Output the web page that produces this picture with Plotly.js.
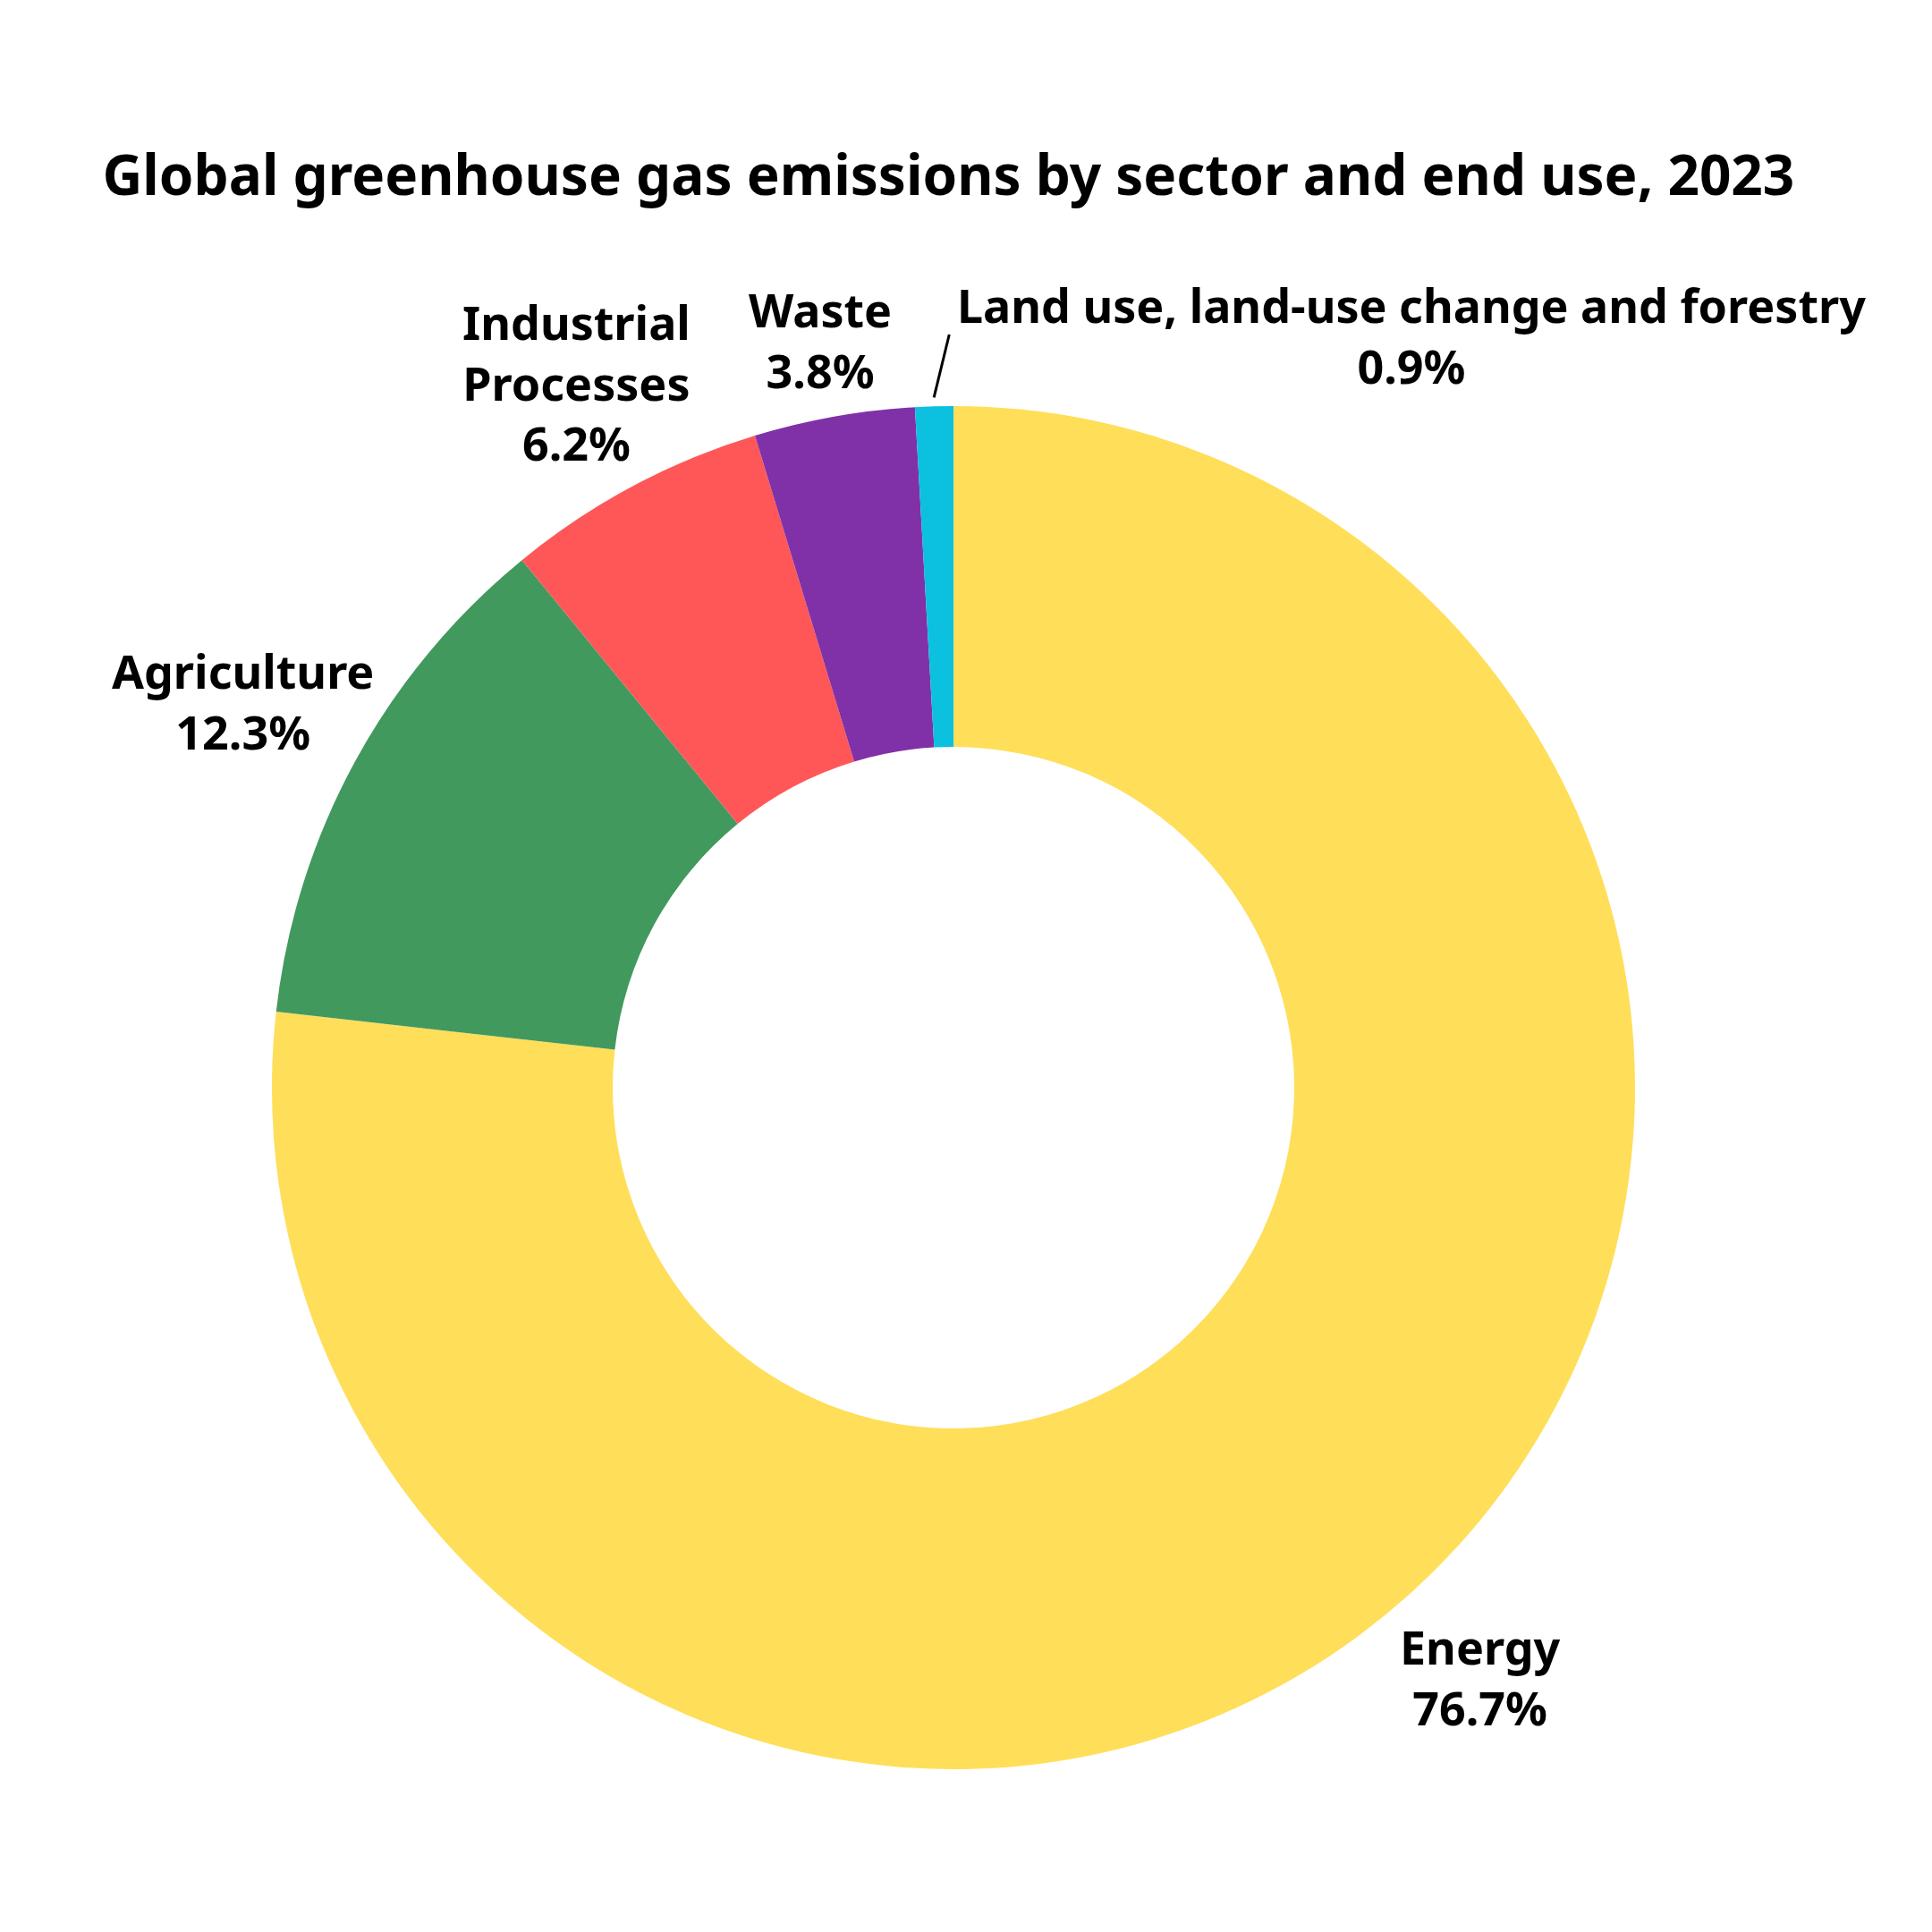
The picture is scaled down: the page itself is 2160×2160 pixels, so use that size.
<!DOCTYPE html>
<html>
<head>
<meta charset="utf-8">
<script src="https://cdn.plot.ly/plotly-3.0.1.min.js"></script>
<style>
  html, body { margin: 0; padding: 0; background: #ffffff; }
  #chart { width: 2160px; height: 2160px; }
</style>
</head>
<body>
<div id="chart"></div>
<script>
// ---- data (share of global GHG emissions, %) ----
const sectors = [
  'Energy',
  'Agriculture',
  'Industrial<br>Processes',
  'Waste',
  'Land use, land-use change and forestry'
];
const shares = [76.7, 12.3, 6.2, 3.8, 0.9];
const sectorColors = ['#FFDE59', '#42995E', '#FF5757', '#8031A7', '#0CC0DF'];

const FONT = '"Noto Sans", "Open Sans", sans-serif';

// ---- layout geometry (px) ----
const W = 2160, H = 2160;
const M = { l: 76, r: 104, t: 454, b: 182 };
const plotW = W - M.l - M.r, plotH = H - M.t - M.b;
const R = Math.min(plotW, plotH) / 2;           // outer radius plotly uses
// distance of label centre from the donut centre, per slice
const labelDist = [884, 905, 895, 850, null];

// paper coords from a polar offset (angle clockwise from 12 o'clock)
function polar(angleDeg, dist) {
  const a = angleDeg * Math.PI / 180;
  return {
    x: 0.5 + dist * Math.sin(a) / plotW,
    y: 0.5 + dist * Math.cos(a) / plotH
  };
}

const total = shares.reduce((s, v) => s + v, 0);
let acc = 0;
const midAngles = shares.map(v => {
  const mid = (acc + v / 2) / total * 360;
  acc += v;
  return mid;
});

const annotations = [];
const shapes = [];
sectors.forEach((name, i) => {
  const txt = `<b>${name}<br>${shares[i].toFixed(1)}%</b>`;
  if (labelDist[i] !== null) {
    const p = polar(midAngles[i], labelDist[i]);
    annotations.push({
      xref: 'paper', yref: 'paper', x: p.x, y: p.y,
      xanchor: 'center', yanchor: 'middle', align: 'center',
      text: txt, showarrow: false,
      font: { family: FONT, size: 52, color: '#000000' }
    });
  } else {
    // tiny slice: leader line then label off to the right
    const p0 = polar(midAngles[i], R + 10);
    const p1 = polar(midAngles[i] + 1.3, R + 80);
    shapes.push({
      type: 'line', xref: 'paper', yref: 'paper',
      x0: p0.x, y0: p0.y, x1: p1.x, y1: p1.y,
      line: { color: '#000000', width: 3 }
    });
    annotations.push({
      xref: 'paper', yref: 'paper', x: p1.x + 7 / plotW, y: p1.y,
      xanchor: 'left', yanchor: 'middle', align: 'center',
      text: txt, showarrow: false,
      font: { family: FONT, size: 52, color: '#000000' }
    });
  }
});

Plotly.newPlot('chart', [{
  type: 'pie',
  labels: sectors,
  values: shares,
  hole: 0.5,
  sort: false,
  direction: 'clockwise',
  rotation: 0,
  marker: { colors: sectorColors, line: { width: 0 } },
  textinfo: 'none',
  hoverinfo: 'skip',
  showlegend: false,
  automargin: false
}], {
  width: W,
  height: H,
  paper_bgcolor: '#ffffff',
  margin: M,
  annotations,
  shapes,
  title: {
    text: '<b>Global greenhouse gas emissions by sector and end use, 2023</b>',
    font: { family: FONT, size: 62, color: '#000000' },
    xref: 'container', yref: 'container',
    x: 0.053, xanchor: 'left',
    y: 0.909, yanchor: 'middle'
  }
}, { displayModeBar: false, staticPlot: true });
</script>
</body>
</html>
